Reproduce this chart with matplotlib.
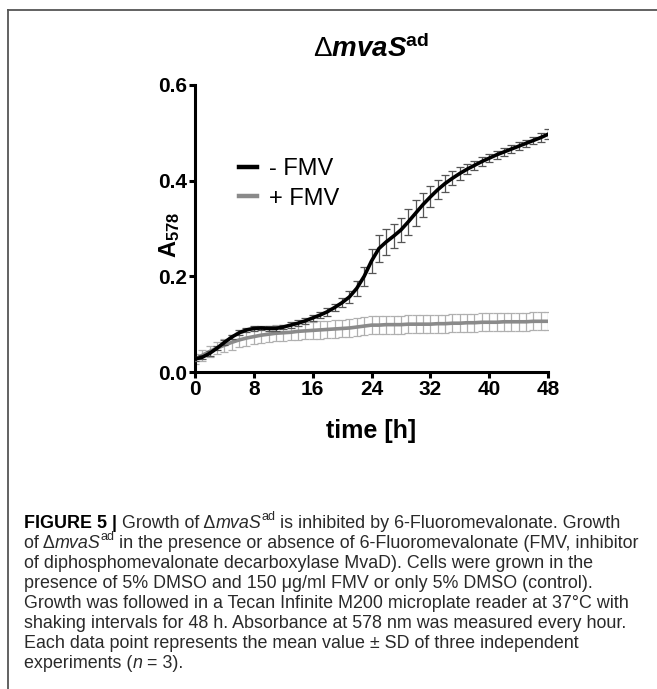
import matplotlib
matplotlib.use("Agg")
import matplotlib.pyplot as plt
from matplotlib.lines import Line2D
from matplotlib.text import Annotation

# data (A578, hourly, mean and SD)
hours = list(range(49))
minus_fmv = [0.027, 0.031, 0.039, 0.050, 0.062, 0.073, 0.082, 0.088, 0.091, 0.092,
             0.091, 0.091, 0.094, 0.098, 0.102, 0.107, 0.113, 0.119, 0.126, 0.135,
             0.145, 0.157, 0.175, 0.200, 0.232, 0.258, 0.272, 0.284, 0.297, 0.314,
             0.332, 0.350, 0.366, 0.381, 0.394, 0.405, 0.415, 0.424, 0.432, 0.440,
             0.447, 0.454, 0.460, 0.466, 0.472, 0.478, 0.484, 0.490, 0.497]
minus_sd = [0.004, 0.004, 0.005, 0.005, 0.005, 0.005, 0.005, 0.005, 0.005, 0.005,
            0.005, 0.005, 0.005, 0.006, 0.006, 0.006, 0.007, 0.007, 0.008, 0.008,
            0.010, 0.013, 0.016, 0.020, 0.025, 0.028, 0.028, 0.025, 0.025, 0.027,
            0.027, 0.025, 0.022, 0.020, 0.017, 0.015, 0.013, 0.011, 0.010, 0.009,
            0.008, 0.008, 0.008, 0.008, 0.008, 0.008, 0.008, 0.009, 0.010]
plus_fmv = [0.027, 0.035, 0.043, 0.050, 0.056, 0.062, 0.067, 0.071, 0.074, 0.077,
            0.079, 0.081, 0.082, 0.083, 0.085, 0.086, 0.087, 0.088, 0.089, 0.090,
            0.091, 0.092, 0.094, 0.096, 0.098, 0.098, 0.099, 0.099, 0.099, 0.100,
            0.100, 0.100, 0.100, 0.101, 0.101, 0.102, 0.102, 0.103, 0.103, 0.104,
            0.104, 0.104, 0.105, 0.105, 0.105, 0.105, 0.106, 0.106, 0.106]
plus_sd = [0.010, 0.011, 0.012, 0.013, 0.014, 0.015, 0.015, 0.016, 0.016, 0.016,
           0.017, 0.017, 0.017, 0.017, 0.018, 0.018, 0.018, 0.018, 0.018, 0.018,
           0.018, 0.018, 0.018, 0.019, 0.019, 0.019, 0.019, 0.019, 0.019, 0.019,
           0.019, 0.019, 0.019, 0.019, 0.019, 0.019, 0.019, 0.019, 0.019, 0.019,
           0.019, 0.019, 0.019, 0.019, 0.019, 0.019, 0.019, 0.019, 0.019]

x_ticks = [0, 8, 16, 24, 32, 40, 48]
y_ticks = [0.0, 0.2, 0.4, 0.6]
y_tick_labels = ["0.0", "0.2", "0.4", "0.6"]
series_labels = ["- FMV", "+ FMV"]

caption = [
    [("FIGURE 5 |", "bold"), (" Growth of \u0394", ""), ("mvaS", "italic"), ("ad", "sup"),
     (" is inhibited by 6-Fluoromevalonate. Growth", "")],
    [("of \u0394", ""), ("mvaS", "italic"), ("ad", "sup"),
     (" in the presence or absence of 6-Fluoromevalonate (FMV, inhibitor", "")],
    [("of diphosphomevalonate decarboxylase MvaD). Cells were grown in the", "")],
    [("presence of 5% DMSO and 150 \u03bcg/ml FMV or only 5% DMSO (control).", "")],
    [("Growth was followed in a Tecan Infinite M200 microplate reader at 37\u00b0C with", "")],
    [("shaking intervals for 48 h. Absorbance at 578 nm was measured every hour.", "")],
    [("Each data point represents the mean value \u00b1 SD of three independent", "")],
    [("experiments (", ""), ("n", "italic"), (" = 3).", "")],
]

plt.rcParams["font.family"] = "Liberation Sans"
plt.rcParams["mathtext.fontset"] = "custom"
plt.rcParams["mathtext.rm"] = "Liberation Sans"
plt.rcParams["mathtext.it"] = "Liberation Sans:italic"
plt.rcParams["mathtext.bf"] = "Liberation Sans:bold"
plt.rcParams["mathtext.bfit"] = "Liberation Sans:italic:bold"

W, H = 657, 689
fig = plt.figure(figsize=(W / 100, H / 100), dpi=100)
ax = fig.add_axes([195 / W, 1 - 372 / H, 353 / W, 287 / H])

ax.errorbar(hours, plus_fmv, yerr=plus_sd, color="#8a8a8a", lw=2.6,
            ecolor="#b0b0b0", elinewidth=0.9, capsize=2.6, capthick=0.9,
            label=series_labels[1], zorder=2)
ax.errorbar(hours, minus_fmv, yerr=minus_sd, color="black", lw=2.6,
            ecolor="#555555", elinewidth=0.9, capsize=2.6, capthick=0.9,
            label=series_labels[0], zorder=3)

ax.set_xlim(0, 48)
ax.set_ylim(0, 0.6)
ax.set_xticks(x_ticks)
ax.set_yticks(y_ticks)
ax.set_yticklabels(y_tick_labels)
for s in ["top", "right"]:
    ax.spines[s].set_visible(False)
for s in ["left", "bottom"]:
    ax.spines[s].set_linewidth(2.2)
ax.tick_params(width=2.2, length=4.5, labelsize=15, pad=1)
for lab in ax.get_xticklabels() + ax.get_yticklabels():
    lab.set_fontweight("bold")

ax.set_xlabel("time [h]", fontsize=18, fontweight="bold", labelpad=15)
ax.set_ylabel(r"$\mathbf{A}_{\mathbf{578}}$", fontsize=17)
ax.yaxis.set_label_coords(-0.036, 0.477)

handles = [Line2D([], [], color="black", lw=3.2), Line2D([], [], color="#8a8a8a", lw=3.2)]
ax.legend(handles, series_labels, loc="upper left", bbox_to_anchor=(0.125, 0.745),
          frameon=False, fontsize=17, handlelength=0.75, handletextpad=0.5,
          labelspacing=0.32, borderpad=0, borderaxespad=0)

fig.text(371 / W, 1 - 57 / H, r"$\Delta\mathbfit{mvaS}^{\mathbf{ad}}$",
         ha="center", va="baseline", fontsize=20)

# frame lines of the figure panel
fig.add_artist(Line2D([8 / W, 1], [1 - 10 / H, 1 - 10 / H], color="#555555", lw=1.3))
fig.add_artist(Line2D([8 / W, 8 / W], [0, 1 - 10 / H], color="#555555", lw=1.3))

cap_font = ["Liberation Sans Narrow", "Liberation Sans"]
y0 = 528
for i, pieces in enumerate(caption):
    y = 1 - (y0 + i * 20.0) / H
    prev = None
    for txt, style in pieces:
        kw = dict(fontsize=12.9, family=cap_font, va="baseline", ha="left", color="#2a2a2a")
        dy = 0
        if style == "bold":
            kw["fontweight"] = "bold"
            kw["color"] = "black"
        elif style == "italic":
            kw["fontstyle"] = "italic"
        elif style == "sup":
            kw["fontsize"] = 9
            dy = 5.5
        if prev is None:
            prev = fig.text(24 / W, y, txt, **kw)
        else:
            prev = Annotation(txt, xy=(1, y), xycoords=(prev, "figure fraction"),
                              xytext=(0, dy), textcoords="offset points", **kw)
            fig.add_artist(prev)

fig.savefig("out.png", dpi=100)
